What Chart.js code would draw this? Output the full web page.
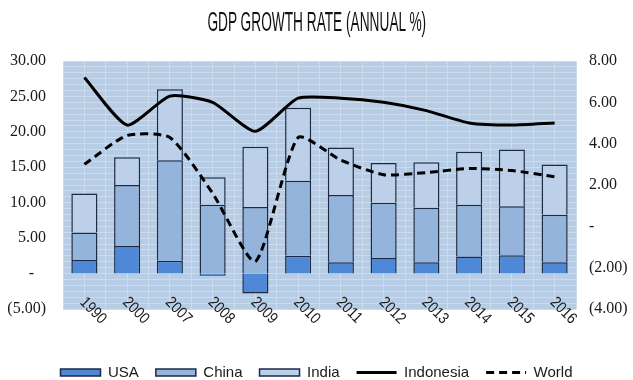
<!DOCTYPE html>
<html>
<head>
<meta charset="utf-8">
<script src="https://cdn.jsdelivr.net/npm/chart.js@4.4.1/dist/chart.umd.min.js"></script>
<style>
  html, body { margin:0; padding:0; background:#fff; }
  #wrap { position:relative; width:633px; height:380px; }
  #title {
    position:absolute; top:6px; left:0; width:633px; text-align:center;
    font-family:'Liberation Sans','DejaVu Sans',sans-serif;
    font-size:27px; color:#111; line-height:32px; white-space:nowrap;
  }
  #title span { display:inline-block; transform-origin:center; }
</style>
</head>
<body>
<div id="wrap">
  <canvas id="chart" width="633" height="380"></canvas>
  <div id="title"><span id="titleText">GDP GROWTH RATE (ANNUAL %)</span></div>
</div>
<script>
// ---------- Data ----------
const years     = ['1990','2000','2007','2008','2009','2010','2011','2012','2013','2014','2015','2016'];
const usa       = [1.9, 3.9, 1.8, -0.3, -2.8, 2.5, 1.6, 2.2, 1.6, 2.4, 2.6, 1.6];
const china     = [3.9, 8.6, 14.2, 9.7, 9.4, 10.6, 9.5, 7.8, 7.7, 7.3, 6.9, 6.7];
const india     = [5.5, 3.9, 10.0, 3.9, 8.5, 10.3, 6.7, 5.6, 6.4, 7.5, 8.0, 7.1];
const indonesia = [7.2, 4.9, 6.3, 6.0, 4.6, 6.2, 6.2, 6.0, 5.6, 5.0, 4.9, 5.0];
const world     = [3.0, 4.4, 4.3, 1.6, -1.7, 4.3, 3.2, 2.5, 2.6, 2.8, 2.7, 2.4];

// ---------- Styles ----------
const SANS  = "'Liberation Sans','DejaVu Sans',sans-serif";
const SERIF = "'Liberation Serif','DejaVu Serif',serif";
const cUSA = '#4f88d6', cChina = '#95b4db', cIndia = '#bdd0e9';
const edge = '#1c2a44';
const plotBg = '#b7cce5', texture = '#cddbec';

// squeeze title to its width in the picture
(() => {
  const t = document.getElementById('titleText');
  t.style.transform = 'scaleX(' + (219 / t.offsetWidth) + ')';
})();

function acct(v, dash){
  if (Math.abs(v) < 1e-9) return dash;
  return v < 0 ? '(' + Math.abs(v).toFixed(2) + ')' : v.toFixed(2);
}

const plotFill = {
  id: 'plotFill',
  beforeDraw(chart){
    const { ctx, chartArea: a } = chart;
    ctx.save(); ctx.fillStyle = plotBg;
    ctx.fillRect(a.left, a.top, a.right - a.left, a.bottom - a.top);
    ctx.restore();
  }
};

// rotated year labels (clockwise 45°, narrow)
const yearLabels = {
  id: 'yearLabels',
  afterDraw(chart){
    const { ctx } = chart, xs = chart.scales.x;
    ctx.save();
    ctx.font = '16px ' + SANS;
    ctx.fillStyle = '#1a1a1a';
    ctx.textAlign = 'left'; ctx.textBaseline = 'middle';
    years.forEach((y, i) => {
      ctx.save();
      ctx.translate(xs.getPixelForValue(i) - 2, 300);
      ctx.rotate(Math.PI / 4);
      ctx.scale(0.85, 1);
      ctx.fillText(y, 0, 0);
      ctx.restore();
    });
    ctx.restore();
  }
};

const legendShift = {
  id: 'legendShift',
  afterLayout(chart){ chart.legend.top += 10; chart.legend.bottom += 10; }
};

const bar = (label, data, color) => ({
  type:'bar', label, data, backgroundColor:color, borderColor:edge, borderWidth:1.5,
  stack:'gdp', yAxisID:'y', order:1, pointStyle:'rect',
  barPercentage:0.61, categoryPercentage:1
});
const line = (label, data, dash) => ({
  type:'line', label, data, borderColor:'#000', backgroundColor:'#000', borderWidth:3,
  borderDash:dash, pointRadius:0, tension:0.2, yAxisID:'y2', order:0, pointStyle:'line'
});

new Chart(document.getElementById('chart'), {
  data: {
    labels: years,
    datasets: [
      bar('USA', usa, cUSA),
      bar('China', china, cChina),
      bar('India', india, cIndia),
      line('Indonesia', indonesia, []),
      line('World', world, [8, 5])
    ]
  },
  options: {
    responsive:false, animation:false,
    layout: { padding: { top:61, left:0, right:0, bottom:0 } },
    plugins: {
      title: { display:false },
      tooltip: { enabled:false },
      legend: {
        position:'bottom',
        labels: {
          usePointStyle:true, pointStyleWidth:40, boxHeight:7, padding:17,
          color:'#1a1a1a', font:{ family:SANS, size:15 },
          sort:(a, b) => a.datasetIndex - b.datasetIndex,
          generateLabels(chart){
            const items = Chart.defaults.plugins.legend.labels.generateLabels(chart);
            items.forEach(it => {
              const ds = chart.data.datasets[it.datasetIndex];
              if (ds.type === 'line') { it.lineDash = ds.borderDash; it.lineWidth = 3; }
            });
            return items;
          }
        }
      }
    },
    scales: {
      x: {
        type:'category', offset:true, stacked:true,
        ticks:{ display:false }, grid:{ display:false, drawTicks:false }, border:{ display:false },
        afterFit(s){ s.height = 380 - 309 - (s.chart.legend ? s.chart.legend.height : 0); }
      },
      xg: {
        type:'linear', position:'bottom', min:0, max:24,
        ticks:{ display:false, stepSize:1 }, border:{ display:false },
        grid:{ color:texture, lineWidth:1, drawTicks:false },
        afterFit(s){ s.height = 0; }
      },
      y: {
        position:'left', stacked:true, min:-5, max:30,
        ticks:{ stepSize:5, padding:17, color:'#1a1a1a', font:{ family:SERIF, size:16 },
                callback:v => acct(v, '-   ') },
        grid:{ display:false, drawTicks:false }, border:{ display:false },
        afterFit(s){ s.width = 63; }
      },
      yg: {
        type:'linear', position:'left', min:0, max:42,
        ticks:{ display:false, stepSize:1 }, border:{ display:false },
        grid:{ color:texture, lineWidth:1, drawTicks:false },
        afterFit(s){ s.width = 0; }
      },
      y2: {
        position:'right', min:-4, max:8,
        ticks:{ stepSize:2, padding:13, color:'#1a1a1a', font:{ family:SERIF, size:16 },
                callback:v => acct(v, '-') },
        grid:{ display:false, drawTicks:false }, border:{ display:false },
        afterFit(s){ s.width = 57; }
      }
    }
  },
  plugins: [plotFill, yearLabels, legendShift]
});
</script>
</body>
</html>
